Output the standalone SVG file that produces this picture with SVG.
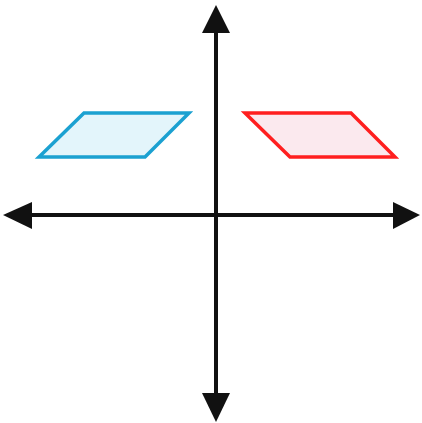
<svg xmlns="http://www.w3.org/2000/svg" width="422" height="423" viewBox="0 0 422 423">
<style>
.axis{stroke:#111;stroke-width:4;fill:none}
.head{fill:#111}
.blue{fill:#e3f5fb;stroke:#1ba1d1;stroke-width:3.5;stroke-linejoin:miter}
.red{fill:#fbe9ee;stroke:#ff1f1f;stroke-width:3.5;stroke-linejoin:miter}
</style>
<rect width="422" height="423" fill="#fff"/>
<g id="axes">
<line class="axis" x1="216" y1="30" x2="216" y2="395"/>
<line class="axis" x1="30" y1="215" x2="396" y2="215"/>
<polygon class="head" points="216,5 230,33 202,33"/>
<polygon class="head" points="216,422 230,393 202,393"/>
<polygon class="head" points="3,215 32,202 32,229"/>
<polygon class="head" points="420,215 393,202 393,229"/>
</g>
<g id="blue-parallelogram">
<polygon class="blue" points="84,113 189,113 145,157 39,157"/>
</g>
<g id="red-parallelogram">
<polygon class="red" points="245,113 351,113 395,157 290,157"/>
</g>
</svg>
